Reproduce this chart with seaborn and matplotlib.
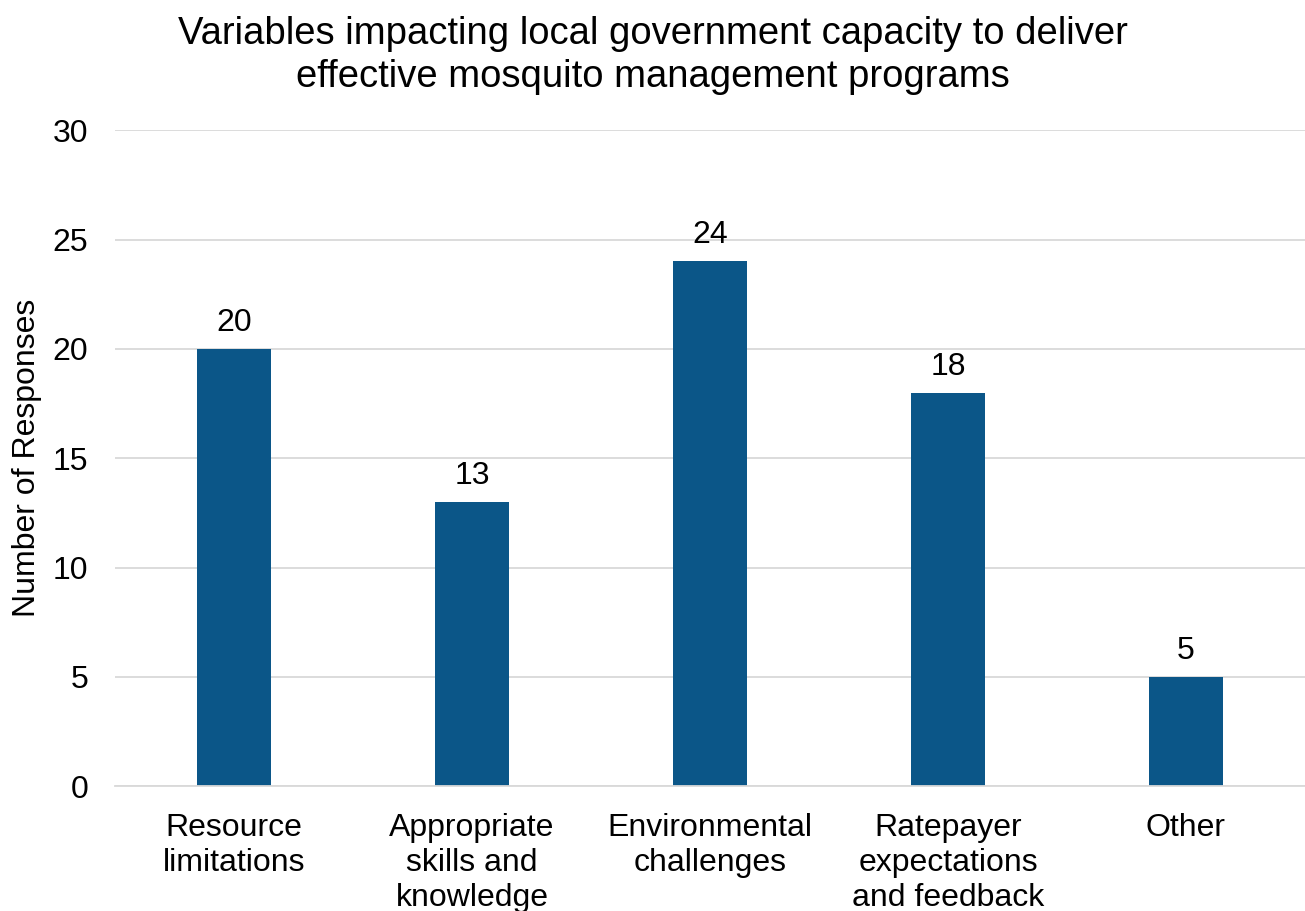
import pandas as pd
import seaborn as sns
import matplotlib.pyplot as plt

categories = ["Resource\nlimitations", "Appropriate\nskills and\nknowledge",
              "Environmental\nchallenges", "Ratepayer\nexpectations\nand feedback", "Other"]
responses = [20, 13, 24, 18, 5]

df = pd.DataFrame({"category": categories, "responses": responses})

sns.set_style("white")
plt.rcParams['font.family'] = ['Liberation Sans', 'DejaVu Sans']
plt.rcParams['text.color'] = 'black'
plt.rcParams['xtick.color'] = 'black'
plt.rcParams['ytick.color'] = 'black'
plt.rcParams['axes.labelcolor'] = 'black'

fig = plt.figure(figsize=(13.05, 9.11), dpi=100)
ax = fig.add_axes([0.088, 0.137, 0.912, 0.72])

sns.barplot(data=df, x="category", y="responses", color="#0B5688", width=0.31,
            saturation=1, linewidth=0, ax=ax)

for c in ax.containers:
    ax.bar_label(c, padding=8, fontsize=23)

ax.set_ylim(0, 30)
ax.set_xlim(-0.5, 4.5)
ax.set_yticks(range(0, 31, 5))
ax.yaxis.grid(True, color="#D9D9D9", linewidth=1.3)
ax.set_axisbelow(True)
for s in ["top", "right", "left"]:
    ax.spines[s].set_visible(False)
ax.spines["bottom"].set_color("#D9D9D9")
ax.spines["bottom"].set_linewidth(1.3)
ax.tick_params(axis="both", length=0, labelsize=23)
ax.tick_params(axis="y", pad=19)
ax.tick_params(axis="x", pad=19)
for t in ax.get_xticklabels():
    t.set_linespacing(1.22)
ax.set_xlabel("")
ax.set_ylabel("Number of Responses", fontsize=23, labelpad=8)

fig.suptitle("Variables impacting local government capacity to deliver\neffective mosquito management programs",
             x=0.5, y=0.982, fontsize=27.5, linespacing=1.25)

fig.savefig("out.png", dpi=100)
